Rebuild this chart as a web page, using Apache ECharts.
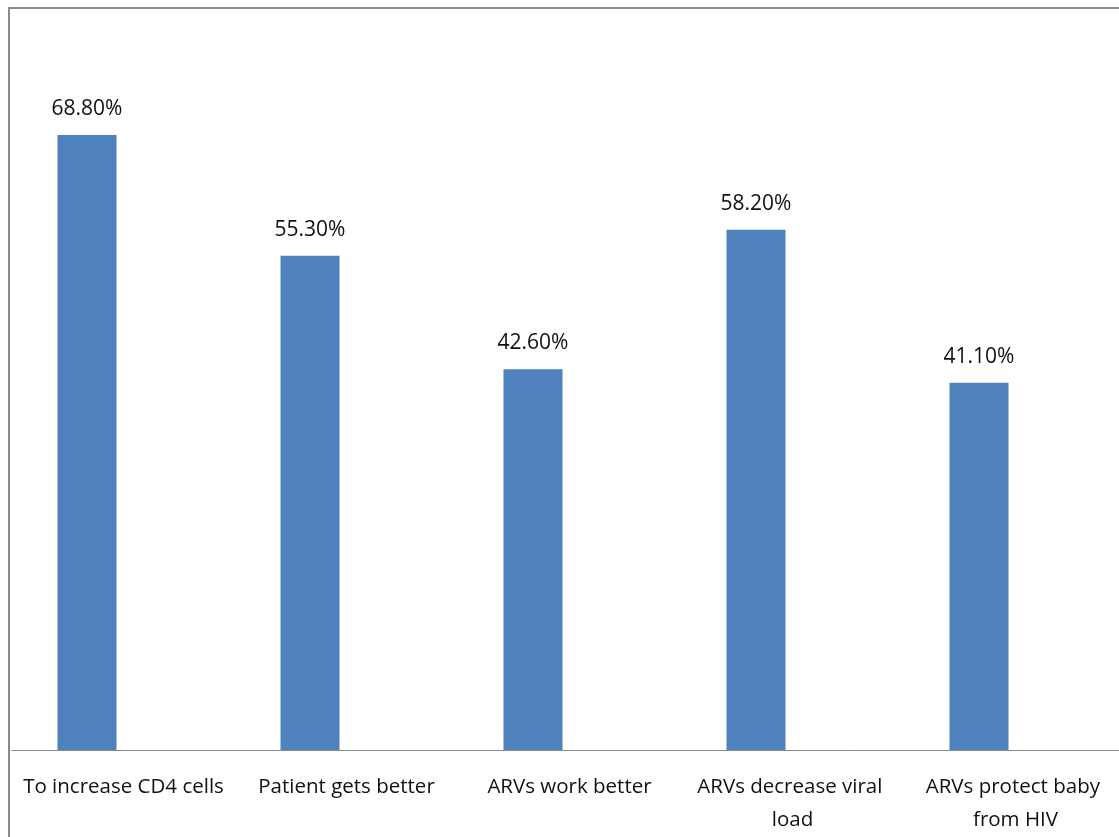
<!DOCTYPE html>
<html>
<head>
<meta charset="utf-8">
<script src="https://cdn.jsdelivr.net/npm/echarts@6/dist/echarts.min.js"></script>
<style>
  html, body { margin: 0; padding: 0; background: #fff; overflow: hidden; width: 1119px; height: 837px; }
  #frame { position: absolute; left: 8px; top: 7px; width: 1111px; height: 830px;
           border-left: 2px solid #8a8a8a; border-top: 2px solid #8a8a8a; }
  #clip { position: absolute; left: 0; top: 0; width: 1119px; height: 837px; overflow: hidden; }
  #chart { position: absolute; left: 0; top: 0; width: 1127px; height: 837px; }
</style>
</head>
<body>
<div id="frame"></div>
<div id="clip"><div id="chart"></div></div>
<script>
const categories = ['To increase CD4 cells', 'Patient gets better', 'ARVs work better', 'ARVs decrease viral load', 'ARVs protect baby from HIV'];
const values = [68.8, 55.3, 42.6, 58.2, 41.1];

// bars sit slightly left of their category labels in the reference
const barShift = 0.1637;
const barData = values.map((v, i) => [i, v]);

const chart = echarts.init(document.getElementById('chart'), null, { renderer: 'canvas' });
const FONT = 'Open Sans';
chart.setOption({
  animation: false,
  backgroundColor: 'transparent',
  grid: { left: 12, right: 0, top: 35, bottom: 83, containLabel: false },
  xAxis: [
    {
      type: 'category', data: categories,
      axisLine: { show: true, lineStyle: { color: '#8a8a8a', width: 1 } },
      axisTick: { show: false },
      axisLabel: {
        interval: 0, margin: 21, color: '#111', fontFamily: FONT, fontSize: 20.5,
        lineHeight: 33, width: 210, overflow: 'break', align: 'center'
      }
    },
    {
      type: 'value', min: -0.5 + barShift, max: 4.5 + barShift, show: false
    }
  ],
  yAxis: { type: 'value', min: 0, max: 80, show: false },
  series: [{
    type: 'bar', xAxisIndex: 1,
    data: barData, barWidth: 59,
    itemStyle: { color: '#4F81BD' },
    label: {
      show: true, position: 'top', distance: 14, lineHeight: 24,
      color: '#111', fontFamily: FONT, fontSize: 21,
      formatter: p => p.value[1].toFixed(2) + '%'
    }
  }]
});
</script>
</body>
</html>
